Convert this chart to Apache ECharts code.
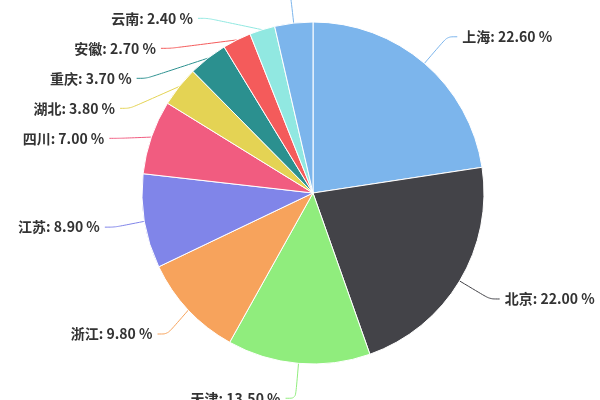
<!DOCTYPE html>
<html>
<head>
<meta charset="utf-8">
<script src="https://cdn.jsdelivr.net/npm/echarts@6/dist/echarts.min.js"></script>
<style>html,body{margin:0;padding:0;background:#fff;overflow:hidden}#c{width:600px;height:520px;margin-top:-60px}</style>
</head>
<body>
<div id="c"></div>
<script>
const regions = ['上海', '北京', '天津', '浙江', '江苏', '四川', '湖北', '重庆', '安徽', '云南', '其他'];
const shares = [22.6, 22.0, 13.5, 9.8, 8.9, 7.0, 3.8, 3.7, 2.7, 2.4, 3.6];
const palette = ['#7cb5ec', '#434348', '#90ed7d', '#f7a35c', '#8085e9', '#f15c80', '#e4d354', '#2b908f', '#f45b5b', '#91e8e1', '#7cb5ec'];

const chart = echarts.init(document.getElementById('c'));
chart.setOption({
  animation: false,
  color: palette,
  series: [{
    type: 'pie',
    center: [313, 253],
    radius: 171,
    startAngle: 90,
    clockwise: true,
    avoidLabelOverlap: true,
    itemStyle: { borderColor: '#fff', borderWidth: 1 },
    label: {
      show: true,
      position: 'outside',
      overflow: 'none',
      formatter: p => p.name + ': ' + p.value.toFixed(2) + ' %',
      fontFamily: 'Noto Sans CJK SC',
      fontWeight: 'bold',
      fontSize: 14,
      lineHeight: 18,
      padding: [5, 0, 5, 0],
      color: '#333'
    },
    labelLine: { show: true, length: 35, length2: 10, smooth: 0.3, lineStyle: { width: 1 } },
    data: regions.map((n, i) => ({ name: n, value: shares[i] }))
  }]
});
</script>
</body>
</html>
